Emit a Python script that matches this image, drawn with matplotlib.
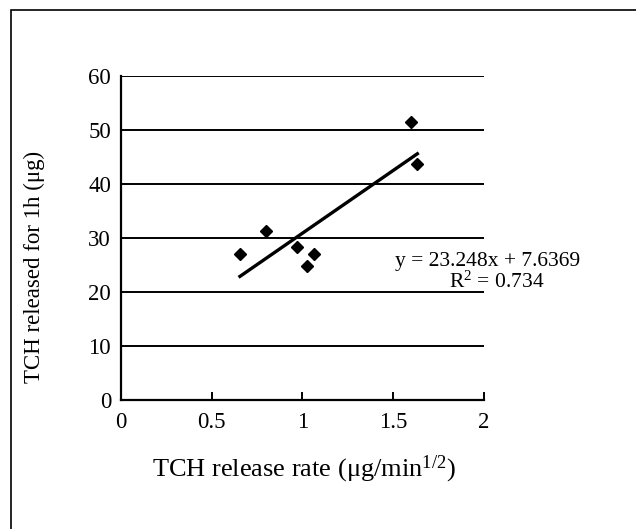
import matplotlib.pyplot as plt
import numpy as np
from matplotlib.patches import Rectangle

plt.rcParams['font.family'] = ['Liberation Serif', 'DejaVu Serif']
plt.rcParams['mathtext.fontset'] = 'custom'
plt.rcParams['mathtext.rm'] = 'Liberation Serif'
plt.rcParams['mathtext.it'] = 'Liberation Serif:italic'

# Release rate vs. amount released in the first hour
release_rate = [0.656, 0.797, 0.971, 1.023, 1.065, 1.596, 1.633]
released_1h = [27.0, 31.3, 28.4, 24.8, 27.0, 51.4, 43.7]

# Linear trend line
slope = 23.248
intercept = 7.6369
r_squared = 0.734

x_ticks = [0, 0.5, 1, 1.5, 2]
x_ticklabels = ['0', '0.5', '1', '1.5', '2']
y_ticks = [0, 10, 20, 30, 40, 50, 60]

fig = plt.figure(figsize=(6.36, 5.29), dpi=100)
ax = fig.add_axes([0.190, 0.2439, 0.571, 0.6124])

for yv in y_ticks[1:]:
    ax.axhline(yv, color='black', lw=1.4, zorder=1)

ax.plot(release_rate, released_1h, 'D', color='black', markersize=6.5,
        zorder=3, clip_on=False)

xfit = np.array([min(release_rate), max(release_rate)])
ax.plot(xfit, slope * xfit + intercept, color='black', lw=2.4, zorder=2)

ax.set_xlim(0, 2)
ax.set_ylim(0, 60)
ax.set_xticks(x_ticks)
ax.set_xticklabels(x_ticklabels)
ax.set_yticks(y_ticks)
ax.tick_params(axis='x', direction='in', length=6, width=1.4, pad=9,
               labelsize=16.5)
ax.tick_params(axis='y', length=0, pad=7, labelsize=16.5)
ax.spines['top'].set_visible(False)
ax.spines['right'].set_visible(False)
for s in ('left', 'bottom'):
    ax.spines[s].set_linewidth(1.6)

ax.set_xlabel(r'TCH release rate ($\mathrm{\mu}$g/min$^{1/2}$)', fontsize=19)
ax.xaxis.set_label_coords(0.505, -0.165)
ax.set_ylabel('TCH released for 1h (μg)', fontsize=16.5)
ax.yaxis.set_label_coords(-0.21, 0.41)

ax.text(1.51, 25.7, f'y = {slope}x + {intercept}', fontsize=15.5,
        ha='left', va='center')
ax.text(1.81, 21.8, rf'R$^2$ = {r_squared}', fontsize=15.5,
        ha='left', va='center')

# outer frame
fig.patches.append(Rectangle((11 / 636, -0.1), 1.2, 1 - 10 / 529 + 0.1,
                             transform=fig.transFigure, fill=False,
                             edgecolor='black', lw=1.2))

fig.savefig('out.png', dpi=100)
